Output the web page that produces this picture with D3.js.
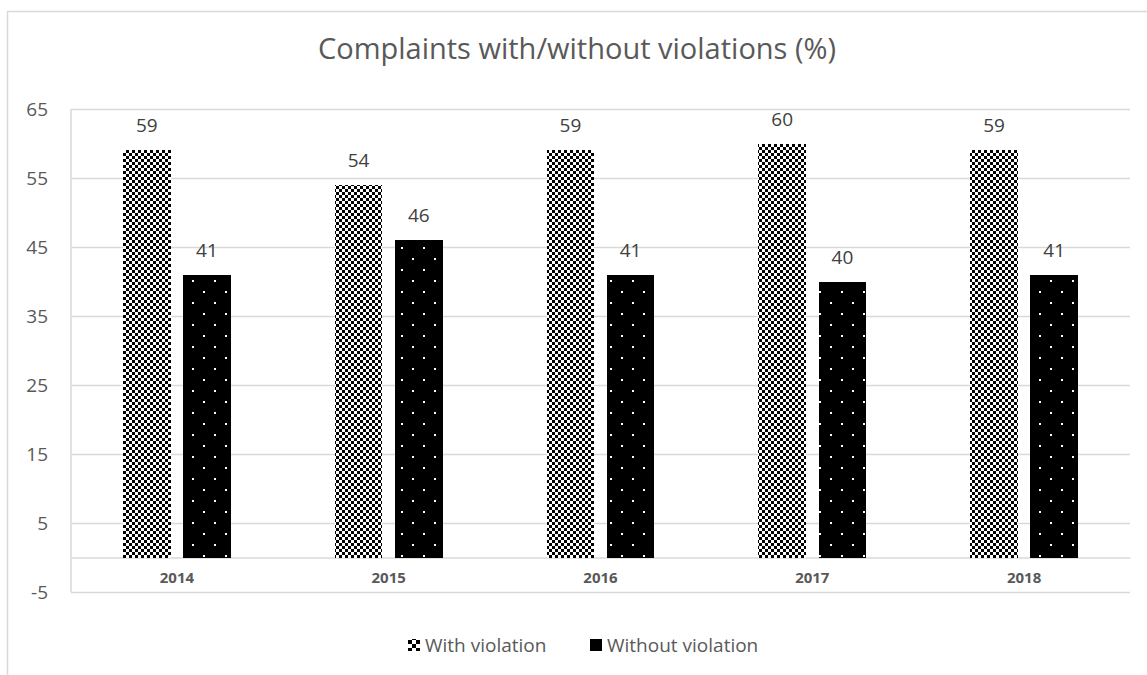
<!DOCTYPE html>
<html>
<head>
<meta charset="utf-8">
<script src="https://cdn.jsdelivr.net/npm/d3@7"></script>
<style>
  html, body { margin: 0; padding: 0; background: #fff; }
  svg { display: block; }
  text { font-family: "Open Sans", "Noto Sans", sans-serif; }
</style>
</head>
<body>
<svg id="chart" width="1147" height="675"></svg>
<script>
// Share of complaints per year, with and without a violation found
const years = ["2014", "2015", "2016", "2017", "2018"];
const withViolation = [59, 54, 59, 60, 59];
const withoutViolation = [41, 46, 41, 40, 41];
const seriesNames = ["With violation", "Without violation"];
const yTicks = [-5, 5, 15, 25, 35, 45, 55, 65];

const svg = d3.select("#chart");
const W = 1147, H = 675;
const margin = { left: 71, right: 17, top: 109, bottom: 83 };

// Fill patterns: checkerboard and black with sparse white dots
const defs = svg.append("defs");
function addChecker(id, cell) {
  const p = defs.append("pattern")
    .attr("id", id).attr("patternUnits", "userSpaceOnUse")
    .attr("width", cell * 2).attr("height", cell * 2);
  p.append("rect").attr("width", cell * 2).attr("height", cell * 2).attr("fill", "#fff");
  p.append("rect").attr("width", cell).attr("height", cell).attr("fill", "#000");
  p.append("rect").attr("x", cell).attr("y", cell)
    .attr("width", cell).attr("height", cell).attr("fill", "#000");
}
addChecker("checker", 3);
addChecker("checkerKey", 4);

const dots = defs.append("pattern")
  .attr("id", "dots").attr("patternUnits", "userSpaceOnUse")
  .attr("width", 22).attr("height", 22);
dots.append("rect").attr("width", 22).attr("height", 22).attr("fill", "#000");
dots.append("rect").attr("x", 5).attr("y", 5).attr("width", 2).attr("height", 2).attr("fill", "#fff");
dots.append("rect").attr("x", 16).attr("y", 16).attr("width", 2).attr("height", 2).attr("fill", "#fff");

const fills = ["url(#checker)", "url(#dots)"];

// Outer chart frame
svg.append("rect")
  .attr("x", 7.5).attr("y", 11.5)
  .attr("width", 1160).attr("height", 700)
  .attr("fill", "none").attr("stroke", "#d9d9d9").attr("stroke-width", 1.5);

// Title
svg.append("text")
  .attr("x", 577).attr("y", 59)
  .attr("text-anchor", "middle")
  .attr("font-size", 29)
  .attr("fill", "#595959")
  .text("Complaints with/without violations (%)");

const x0 = d3.scaleBand()
  .domain(years)
  .range([margin.left, W - margin.right])
  .paddingInner(0).paddingOuter(0);

const x1 = d3.scaleBand()
  .domain([0, 1])
  .range([x0.bandwidth() * 0.2457, x0.bandwidth() * 0.7543])
  .paddingInner(0.21);

const y = d3.scaleLinear()
  .domain([-5, 65])
  .range([H - margin.bottom, margin.top]);

// Horizontal gridlines with tick labels
const yAxis = d3.axisLeft(y).tickValues(yTicks)
  .tickFormat(d => String(d))
  .tickSize(-(W - margin.left - margin.right)).tickPadding(23);
const gy = svg.append("g")
  .attr("transform", `translate(${margin.left},0)`)
  .call(yAxis);
gy.select(".domain").remove();
gy.selectAll(".tick line").attr("stroke", "#d9d9d9").attr("stroke-width", 1.5);
gy.selectAll(".tick text")
  .attr("font-size", 19).attr("fill", "#595959")
  .attr("font-family", "'Open Sans', 'Noto Sans', sans-serif");

// Left edge of the plot area
svg.append("line")
  .attr("x1", margin.left).attr("x2", margin.left)
  .attr("y1", margin.top).attr("y2", H - margin.bottom)
  .attr("stroke", "#d9d9d9").attr("stroke-width", 1.5);

// Category axis on the zero line
const gx = svg.append("g")
  .attr("transform", `translate(0,${y(0)})`)
  .call(d3.axisBottom(x0).tickSize(0).tickPadding(15));
gx.select(".domain").attr("stroke", "#d9d9d9").attr("stroke-width", 1.5);
gx.selectAll(".tick text")
  .attr("font-size", 15).attr("font-weight", "bold").attr("fill", "#595959")
  .attr("font-family", "'Open Sans', 'Noto Sans', sans-serif");

// Bars
const series = [withViolation, withoutViolation];
series.forEach((vals, si) => {
  const g = svg.append("g");
  g.selectAll("rect")
    .data(years.map((yr, i) => ({ yr, v: vals[i] })))
    .join("rect")
    .attr("x", d => x0(d.yr) + x1(si))
    .attr("width", x1.bandwidth())
    .attr("y", d => y(d.v))
    .attr("height", d => y(0) - y(d.v))
    .attr("fill", fills[si])
    .attr("shape-rendering", "crispEdges");
  g.selectAll("text")
    .data(years.map((yr, i) => ({ yr, v: vals[i] })))
    .join("text")
    .attr("x", d => x0(d.yr) + x1(si) + x1.bandwidth() / 2)
    .attr("y", d => y(d.v) - 18)
    .attr("text-anchor", "middle")
    .attr("font-size", 19)
    .attr("fill", "#404040")
    .text(d => d.v);
});

// Legend
const legend = svg.append("g");
const legendItems = [
  { name: seriesNames[0], x: 408, fill: "url(#checkerKey)" },
  { name: seriesNames[1], x: 590, fill: "#000" }
];
legendItems.forEach(item => {
  legend.append("rect")
    .attr("x", item.x).attr("y", 639)
    .attr("width", 12).attr("height", 12)
    .attr("fill", item.fill)
    .attr("shape-rendering", "crispEdges");
  legend.append("text")
    .attr("x", item.x + 17).attr("y", 652)
    .attr("font-size", 19).attr("fill", "#595959")
    .text(item.name);
});
</script>
</body>
</html>
